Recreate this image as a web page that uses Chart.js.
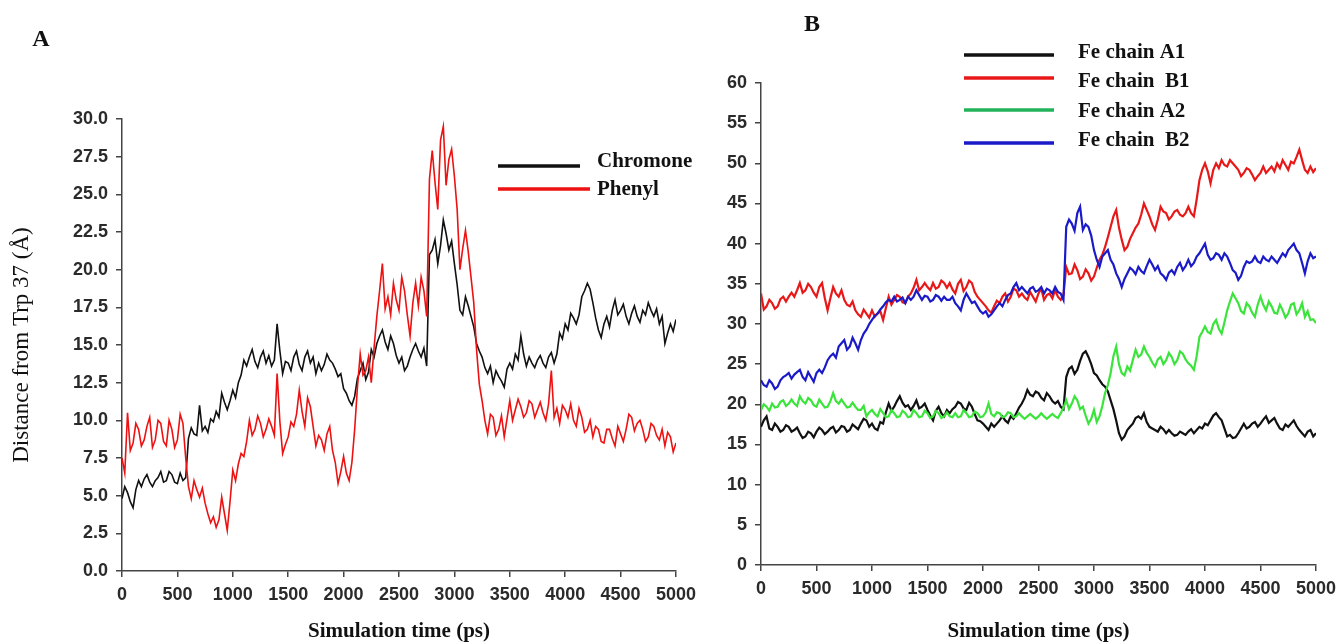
<!DOCTYPE html>
<html>
<head>
<meta charset="utf-8">
<script src="https://cdn.jsdelivr.net/npm/chart.js@4.4.1/dist/chart.umd.min.js"></script>
<style>
  body { margin: 0; background: #fff; width: 1341px; height: 642px; position: relative; overflow: hidden; }
  .panel { position: absolute; top: 0; }
</style>
</head>
<body>
<div class="panel" style="left:0"><canvas id="chartA" width="703" height="642"></canvas></div>
<div class="panel" style="left:700px"><canvas id="chartB" width="643" height="642"></canvas></div>
<script>
// simulation time (ps), one sample every 50 ps
const times = [0,50,100,150,200,250,300,350,400,450,
  500,550,600,650,700,750,800,850,900,950,
  1000,1050,1100,1150,1200,1250,1300,1350,1400,1450,
  1500,1550,1600,1650,1700,1750,1800,1850,1900,1950,
  2000,2050,2100,2150,2200,2250,2300,2350,2400,2450,
  2500,2550,2600,2650,2700,2750,2800,2850,2900,2950,
  3000,3050,3100,3150,3200,3250,3300,3350,3400,3450,
  3500,3550,3600,3650,3700,3750,3800,3850,3900,3950,
  4000,4050,4100,4150,4200,4250,4300,4350,4400,4450,
  4500,4550,4600,4650,4700,4750,4800,4850,4900,4950,
  5000];
// the in-between readings sit half way, at 25, 75, ... 4975 ps
const midTimes = times.slice(0, -1).map(t => t + 25);

// panel A: distance from Trp 37
const chromone = [4.8,5.2,4.2,6.0,6.1,5.9,6.0,6.6,6.0,6.4,
  5.8,6.0,8.8,9.1,11.0,9.6,10.1,10.6,11.8,10.7,
  12.0,12.5,14.0,14.2,13.9,14.2,13.8,13.6,16.4,13.1,
  13.8,14.2,13.7,14.2,13.8,13.1,13.3,14.4,13.8,12.9,
  12.1,11.3,11.6,13.3,12.7,14.7,15.1,16.0,14.7,15.1,
  13.8,13.3,14.2,15.1,14.2,13.6,21.3,20.4,23.3,21.3,
  20.4,17.3,18.2,16.9,15.1,14.2,13.1,12.5,12.9,12.2,
  13.8,14.4,15.6,13.6,13.8,14.0,13.8,14.2,13.8,15.8,
  16.4,17.1,16.4,18.2,19.1,17.8,16.0,16.4,16.2,18.0,
  17.3,16.9,17.1,16.9,17.3,17.8,16.9,16.4,15.1,16.4,
  16.7];
const chromoneMid = [5.6,4.6,5.4,5.6,6.4,5.6,6.2,5.9,6.6,5.9,
  6.5,6.2,9.5,9.0,9.3,9.2,9.9,10.2,11.2,11.3,
  11.5,13.0,13.6,14.7,13.5,14.6,14.3,14.0,14.6,13.9,
  13.3,14.6,13.3,14.6,14.2,13.8,13.7,14.0,13.4,13.1,
  11.8,11.0,12.8,13.8,13.2,14.2,15.6,15.2,15.6,14.3,
  14.2,13.6,14.7,14.6,14.8,21.0,22.0,21.6,22.4,21.9,
  19.0,17.0,17.6,16.2,14.6,13.5,13.6,13.3,12.6,13.4,
  13.4,14.0,14.4,14.2,13.5,14.3,13.5,14.5,14.4,15.4,
  16.0,16.8,17.0,18.6,18.7,16.8,15.5,16.9,17.3,17.0,
  17.7,16.4,17.6,16.5,17.0,17.3,17.4,16.9,15.8,15.9];
const phenyl = [7.5,10.5,8.5,9.4,8.7,10.2,8.7,9.8,8.3,9.4,
  8.7,9.8,5.6,6.0,4.9,4.5,3.2,2.9,4.9,2.7,
  6.7,7.1,7.6,10.0,9.4,9.8,9.4,9.6,13.1,7.8,
  8.9,9.6,12.0,9.6,10.9,8.3,8.7,9.1,8.0,5.8,
  7.6,6.0,9.4,14.4,13.3,12.5,16.9,20.4,18.2,19.1,
  17.3,18.6,15.6,19.1,19.5,16.9,27.9,24.0,29.5,27.3,
  26.2,20.0,22.6,19.5,14.7,11.3,9.1,10.2,9.4,8.9,
  11.3,10.7,10.9,10.5,11.1,10.7,10.5,11.1,10.2,9.8,
  10.7,11.1,9.6,10.2,9.4,8.9,9.4,8.5,9.4,8.3,
  9.1,9.4,10.2,9.8,9.4,8.9,9.6,8.7,8.3,8.9,
  8.5];
const phenylMid = [6.5,8.0,9.8,8.3,9.6,8.2,10.0,8.6,10.0,8.2,
  10.4,7.5,4.8,5.4,5.5,3.8,3.6,3.4,3.8,4.6,
  6.0,7.8,8.6,9.0,10.3,8.9,10.1,9.0,9.9,8.4,
  9.9,10.4,10.6,11.5,9.6,9.0,8.0,9.6,7.2,6.6,
  6.5,7.2,12.2,13.0,14.2,14.8,18.6,17.4,17.0,18.0,
  19.5,17.0,17.8,17.6,18.6,26.0,25.8,28.6,25.6,28.0,
  24.0,21.4,21.2,17.8,12.4,10.0,10.4,9.0,10.3,10.1,
  10.0,11.4,10.2,11.3,10.2,11.2,10.0,13.3,10.8,11.0,
  10.2,10.0,10.8,9.2,10.0,9.6,8.6,9.4,8.8,9.6,
  8.6,10.4,9.3,10.0,8.6,9.8,9.0,9.4,9.2,7.9];

// panel B: Fe distances
const feA1 = [17.2,18.5,16.8,17.2,16.8,17.2,16.8,16.4,16.0,16.4,
  16.6,16.8,16.6,17.2,16.8,17.2,16.8,17.2,17.6,18.0,
  17.6,16.8,17.6,20.1,19.7,21.0,19.7,19.3,20.5,19.7,
  19.3,18.0,19.7,18.5,18.9,19.7,20.1,19.3,19.7,18.0,
  17.6,16.8,17.2,18.0,18.0,18.5,18.9,20.1,21.8,21.0,
  21.4,20.5,21.0,20.1,19.7,23.4,24.7,24.3,26.3,25.9,
  23.9,23.0,22.2,20.5,18.0,15.6,16.8,17.6,18.5,18.9,
  17.2,16.8,17.2,16.4,16.4,16.2,16.4,16.6,16.4,17.2,
  17.6,18.0,18.9,18.0,16.0,15.8,16.4,17.6,17.2,17.8,
  17.6,18.5,18.0,17.6,16.8,17.2,18.0,16.8,16.0,16.8,
  16.4];
const feA1Mid = [18.0,17.0,17.6,16.6,17.4,16.6,17.1,15.8,16.6,15.9,
  17.1,16.3,17.0,16.5,17.3,16.6,17.5,16.9,18.2,17.2,
  17.0,17.8,19.0,19.2,20.4,20.2,19.9,19.8,19.5,20.1,
  18.6,19.2,18.9,19.3,19.4,20.3,19.5,20.2,18.8,17.9,
  17.2,17.6,17.6,18.5,17.7,18.2,19.6,20.8,21.2,21.6,
  20.8,21.4,20.4,20.4,19.4,24.4,23.8,25.4,26.6,25.0,
  23.6,22.5,21.6,19.4,16.4,16.0,17.2,18.3,18.2,17.8,
  17.0,16.6,16.9,16.8,16.1,16.6,16.2,16.9,16.8,17.0,
  17.4,18.6,18.4,17.0,16.2,15.9,17.0,17.0,17.6,17.2,
  18.1,17.7,18.3,17.0,17.5,17.6,17.3,16.4,16.6,16.0];
const feB1 = [33.8,32.2,32.6,32.2,33.4,33.4,33.4,35.1,34.2,34.6,
  33.4,35.1,31.7,34.6,33.4,33.0,32.2,31.7,30.9,31.3,
  31.7,31.3,30.5,33.4,33.0,33.4,32.6,33.8,35.5,34.6,
  34.6,35.1,34.6,35.1,35.1,33.8,35.5,34.6,35.1,33.4,
  32.6,31.7,32.2,32.6,33.8,33.4,34.2,33.8,33.0,33.4,
  33.8,33.0,33.8,34.2,33.0,37.1,36.3,36.7,35.9,36.3,
  35.9,38.0,39.6,42.1,44.2,40.5,39.6,41.3,42.5,45.0,
  43.4,41.7,44.6,43.8,43.4,44.2,43.4,44.6,43.4,47.9,
  50.0,47.5,50.0,50.4,49.6,50.0,49.2,48.8,49.2,47.9,
  48.8,48.8,49.6,50.0,50.4,49.2,50.0,51.7,49.2,49.6,
  49.4];
const feB1Mid = [31.8,33.0,31.9,33.1,32.8,33.9,34.2,33.9,35.0,33.9,
  34.6,33.2,33.2,33.8,34.2,32.4,32.8,31.2,31.8,30.8,
  30.9,31.6,32.0,32.4,33.6,32.7,33.4,34.5,34.2,35.1,
  34.2,34.4,35.4,34.5,34.3,35.0,34.1,35.4,34.0,33.0,
  32.2,31.4,32.9,33.4,32.8,34.4,33.4,33.3,34.0,32.8,
  34.4,33.6,33.2,33.4,33.6,36.2,37.4,35.6,36.8,35.4,
  37.0,38.6,40.8,43.4,42.0,39.2,40.6,42.0,43.6,44.2,
  42.4,43.0,44.0,43.0,44.0,43.6,43.8,43.8,45.5,49.2,
  49.0,49.2,49.4,49.8,50.4,49.6,48.4,49.4,48.6,48.4,
  49.6,49.2,49.0,49.4,49.8,50.2,50.8,50.4,48.8,48.9];
const feA2 = [19.3,19.7,20.1,19.7,20.5,20.1,20.1,21.0,20.1,20.5,
  19.7,20.1,19.7,21.4,20.1,20.1,19.7,19.7,19.3,18.5,
  19.3,18.5,18.9,18.5,18.9,18.5,18.9,18.5,18.9,18.5,
  18.9,18.5,18.9,18.5,18.5,18.9,18.5,18.9,18.5,18.9,
  18.5,20.1,18.5,18.9,18.5,18.9,18.5,18.5,18.5,18.5,
  18.5,18.5,18.5,18.5,18.9,20.5,20.1,20.5,19.7,17.6,
  19.3,18.5,21.4,23.9,27.2,23.9,24.7,25.5,25.9,27.2,
  25.9,24.7,25.9,25.5,25.9,25.5,26.3,25.1,24.3,28.4,
  29.7,28.8,30.5,28.8,31.7,33.8,32.6,31.3,32.2,30.9,
  33.4,31.7,32.2,31.3,31.7,31.3,32.6,31.7,30.9,30.5,
  30.1];
const feA2Mid = [20.0,19.2,19.6,20.3,19.8,20.6,19.8,20.4,20.8,19.9,
  20.6,19.6,20.4,20.4,20.6,19.6,20.2,19.3,19.8,19.0,
  18.8,19.4,18.4,19.3,18.4,19.2,18.4,19.3,18.4,19.2,
  18.3,19.2,18.3,19.0,18.4,18.4,19.3,18.4,19.1,18.4,
  19.0,18.8,19.0,18.4,19.0,18.4,18.9,18.2,18.8,18.2,
  18.9,18.2,18.8,18.3,19.6,19.4,21.0,19.4,18.6,18.2,
  17.8,19.8,22.4,26.0,25.0,23.6,24.2,26.8,26.2,26.4,
  25.2,25.6,25.0,26.4,25.0,26.6,25.6,24.8,26.0,29.0,
  29.0,30.0,29.4,30.2,32.8,33.2,31.6,32.6,31.4,32.4,
  32.4,32.8,31.4,32.4,30.8,32.4,31.2,32.6,31.6,30.6];
const feB2 = [23.0,22.2,22.6,22.2,23.4,23.9,23.7,24.3,23.0,23.4,
  23.9,23.9,25.5,26.3,27.2,28.0,27.2,27.6,28.0,29.3,
  30.5,31.3,32.2,33.0,33.4,33.0,32.6,33.0,34.2,33.0,
  33.4,33.0,33.4,33.4,33.0,32.6,31.7,33.8,32.6,32.2,
  31.3,30.9,31.7,32.6,33.0,33.8,35.1,34.6,33.8,34.6,
  34.2,33.8,34.2,34.6,33.8,42.1,42.5,43.8,41.7,42.1,
  39.2,37.1,38.8,38.0,36.3,34.6,36.3,36.7,37.1,36.3,
  38.0,36.7,36.3,35.5,36.7,37.1,36.7,38.0,37.6,38.8,
  40.0,38.0,38.8,38.0,38.4,36.7,35.5,37.1,37.6,38.4,
  37.6,38.0,38.4,37.6,38.8,39.2,40.0,38.8,36.3,38.8,
  38.4];
const feB2Mid = [22.4,23.0,21.9,23.0,23.6,23.2,24.0,23.4,24.0,22.8,
  24.3,24.6,26.0,25.8,27.6,26.8,28.3,26.8,28.8,30.0,
  31.0,31.8,32.7,32.8,32.8,33.3,33.4,33.4,33.6,33.5,
  32.8,33.6,32.9,33.0,33.4,32.2,33.0,33.2,32.8,31.6,
  31.6,31.2,32.2,32.2,33.6,34.6,34.2,34.2,34.4,34.0,
  34.6,34.4,33.8,34.0,33.0,43.0,41.6,44.6,42.4,41.0,
  38.0,38.4,39.2,37.4,35.6,35.6,37.0,36.2,36.6,37.2,
  37.4,37.2,36.0,36.4,36.2,37.6,37.2,37.2,38.4,39.4,
  38.6,38.2,38.6,38.8,37.6,36.4,36.0,37.8,37.8,37.8,
  38.4,37.8,38.0,38.2,38.4,39.6,39.2,37.6,37.8,38.2];

const ticksA = [0, 2.5, 5, 7.5, 10, 12.5, 15, 17.5, 20, 22.5, 25, 27.5, 30];
const ticksB = [0, 5, 10, 15, 20, 25, 30, 35, 40, 45, 50, 55, 60];

// interleave the 50 ps readings with the half way ones
function pts(vals, mids) {
  const out = [];
  times.forEach((t, i) => {
    out.push({x: t, y: vals[i]});
    if (i < mids.length) out.push({x: midTimes[i], y: mids[i]});
  });
  return out;
}

const tickFont = {family: '"Liberation Sans", Arial, sans-serif', weight: 'bold', size: 18};
const axisColor = '#444';

// panel letter + hand placed legend, like the original figure
const decor = {
  id: 'decor',
  afterDraw(chart, args, o) {
    const ctx = chart.ctx;
    ctx.save();
    ctx.fillStyle = '#111';
    ctx.textBaseline = 'middle';
    ctx.textAlign = 'center';
    ctx.font = 'bold 24px "Liberation Serif"';
    ctx.fillText(o.letter, o.letterX, o.letterY);
    ctx.textAlign = 'left';
    ctx.font = 'bold 21px "Liberation Serif"';
    o.rows.forEach(r => {
      const ds = chart.data.datasets[r.ds];
      ctx.strokeStyle = ds.legendColor || ds.borderColor;
      ctx.lineWidth = 3.5;
      ctx.beginPath();
      ctx.moveTo(o.x0, r.ly);
      ctx.lineTo(r.x1 || o.x1, r.ly);
      ctx.stroke();
      ctx.fillText(ds.label, o.tx, r.ty);
    });
    ctx.restore();
  }
};

function xScale(height) {
  return {
    type: 'linear', min: 0, max: 5000,
    ticks: {stepSize: 500, font: tickFont, color: '#2a2a2a', padding: 7, maxRotation: 0,
      callback: v => String(v)},
    grid: {drawOnChartArea: false, tickLength: 6, color: axisColor, lineWidth: 1.5},
    border: {color: axisColor, width: 1.5},
    title: {display: true, text: 'Simulation time (ps)', color: '#111',
      font: {family: '"Liberation Serif"', weight: 'bold', size: 21, lineHeight: 1}, padding: 0},
    afterFit(s) { s.height = height; }
  };
}

function yScale(width, max, list, fmt) {
  return {
    min: 0, max: max,
    afterBuildTicks(s) { s.ticks = list.map(v => ({value: v})); },
    ticks: {font: tickFont, color: '#2a2a2a', padding: 8, callback: fmt},
    grid: {drawOnChartArea: false, tickLength: 6, color: axisColor, lineWidth: 1.5},
    border: {color: axisColor, width: 1.5},
    afterFit(s) { s.width = width; }
  };
}

const yA = yScale(122, 30, ticksA, v => v.toFixed(1));
yA.title = {display: true, text: 'Distance from Trp 37 (Å)', color: '#111',
  font: {family: '"Liberation Serif"', size: 23, lineHeight: 1}, padding: {top: 10}};

new Chart(document.getElementById('chartA'), {
  type: 'line',
  data: {
    datasets: [
      {label: 'Chromone', data: pts(chromone, chromoneMid), borderColor: '#111111', borderWidth: 1.6, pointRadius: 0, order: 1},
      {label: 'Phenyl', data: pts(phenyl, phenylMid), borderColor: '#ee1111', borderWidth: 1.6, pointRadius: 0, order: 0}
    ]
  },
  options: {
    responsive: false,
    animation: false,
    layout: {padding: {left: 0, right: 27, top: 119, bottom: 0}},
    plugins: {
      legend: {display: false},
      tooltip: {enabled: false},
      decor: {letter: 'A', letterX: 41, letterY: 40, x0: 498, x1: 580, tx: 597,
        rows: [{ds: 0, ly: 166, ty: 162}, {ds: 1, ly: 189, ty: 190, x1: 590}]}
    },
    scales: {x: xScale(71), y: yA}
  },
  plugins: [decor]
});

new Chart(document.getElementById('chartB'), {
  type: 'line',
  data: {
    datasets: [
      {label: 'Fe chain A1', data: pts(feA1, feA1Mid), borderColor: '#111111', borderWidth: 2.2, pointRadius: 0, order: 3},
      {label: 'Fe chain  B1', data: pts(feB1, feB1Mid), borderColor: '#e81818', borderWidth: 2.2, pointRadius: 0, order: 2},
      {label: 'Fe chain A2', data: pts(feA2, feA2Mid), borderColor: '#3ae43a', legendColor: '#22b35a', borderWidth: 2.2, pointRadius: 0, order: 1},
      {label: 'Fe chain  B2', data: pts(feB2, feB2Mid), borderColor: '#1a1ac8', borderWidth: 2.2, pointRadius: 0, order: 0}
    ]
  },
  options: {
    responsive: false,
    animation: false,
    layout: {padding: {left: 0, right: 27, top: 83, bottom: 0}},
    plugins: {
      legend: {display: false},
      tooltip: {enabled: false},
      decor: {letter: 'B', letterX: 112, letterY: 25, x0: 264, x1: 354, tx: 378,
        rows: [{ds: 0, ly: 55, ty: 53}, {ds: 1, ly: 78, ty: 82}, {ds: 2, ly: 110, ty: 112}, {ds: 3, ly: 143, ty: 141}]}
    },
    scales: {x: xScale(77), y: yScale(61, 60, ticksB, v => String(v))}
  },
  plugins: [decor]
});
</script>
</body>
</html>
